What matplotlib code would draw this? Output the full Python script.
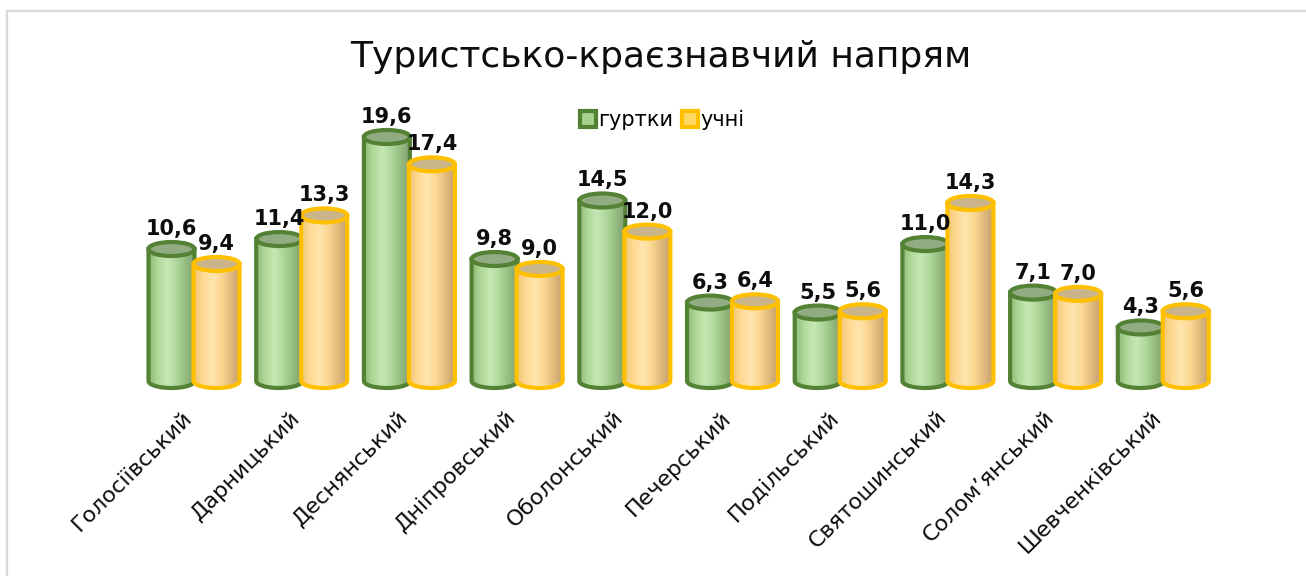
import numpy as np
import matplotlib
matplotlib.use("Agg")
import matplotlib.pyplot as plt
from matplotlib.patches import Ellipse, PathPatch
from matplotlib.path import Path
from matplotlib.colors import LinearSegmentedColormap
from matplotlib.lines import Line2D

categories = ["Голосіївський", "Дарницький", "Деснянський", "Дніпровський",
              "Оболонський", "Печерський", "Подільський", "Святошинський",
              "Солом’янський", "Шевченківський"]
gurtky = [10.6, 11.4, 19.6, 9.8, 14.5, 6.3, 5.5, 11.0, 7.1, 4.3]
uchni = [9.4, 13.3, 17.4, 9.0, 12.0, 6.4, 5.6, 14.3, 7.0, 5.6]
series_names = ["гуртки", "учні"]
title = "Туристсько-краєзнавчий напрям"

W, H = 1306, 576
fig = plt.figure(figsize=(W / 100, H / 100), dpi=100)
ax = fig.add_axes([0, 0, 1, 1])
ax.set_axis_off()

# pixel-based layout -> data limits
px_per_cat = 107.7
first_px = 194.0
base_px = 381.0
px_per_unit = 12.45
xlim = (-first_px / px_per_cat, (W - first_px) / px_per_cat)
ylim = (-(H - base_px) / px_per_unit, base_px / px_per_unit)

bw = 46 / px_per_cat          # cylinder width in x units
off = 22.5 / px_per_cat       # offset from category center
eh = 14 / px_per_unit          # ellipse height in y units

green_cmap = LinearSegmentedColormap.from_list(
    "g", ["#8cbc74", "#b0d99a", "#c6e7b5", "#b0d79b", "#96bd80", "#829f72"])
yellow_cmap = LinearSegmentedColormap.from_list(
    "y", ["#efc676", "#ffda94", "#ffe5ad", "#fbd792", "#e2ba7d", "#c5a070"])
grad = np.linspace(0, 1, 256).reshape(1, -1)


def cylinder(xc, h, cmap, edge, topc, z):
    x0, x1 = xc - bw / 2, xc + bw / 2
    t = np.linspace(0, np.pi, 60)
    bx = xc + (bw / 2) * np.cos(t)
    by = -(eh / 2) * np.sin(t)
    verts = [(x0, h), (x1, h)] + list(zip(bx, by)) + [(x0, h)]
    codes = [Path.MOVETO] + [Path.LINETO] * (len(verts) - 2) + [Path.CLOSEPOLY]
    path = Path(verts, codes)
    clip = PathPatch(path, facecolor="none", edgecolor="none", transform=ax.transData)
    ax.add_patch(clip)
    im = ax.imshow(grad, extent=[x0, x1, -eh / 2, h], aspect="auto", cmap=cmap,
                   zorder=z, interpolation="bilinear")
    im.set_clip_path(clip)
    ax.add_patch(PathPatch(path, facecolor="none", edgecolor=edge, lw=3.0, zorder=z + 0.1))
    ax.add_patch(Ellipse((xc, h), bw, eh, facecolor=topc, edgecolor=edge, lw=3.0, zorder=z + 0.2))


for i, (g, u) in enumerate(zip(gurtky, uchni)):
    z = 2 + i
    cylinder(i - off, g, green_cmap, "#548235", "#91ab82", z)
    cylinder(i + off, u, yellow_cmap, "#ffc000", "#cab58a", z + 0.5)
    for xv, v in ((i - off, g), (i + off, u)):
        ax.text(xv, v + eh / 2 + 3 / px_per_unit, f"{v:.1f}".replace(".", ","),
                ha="center", va="bottom", fontsize=15, fontweight="bold",
                color="#0d0d0d", zorder=50)
    ax.text(i - 0.11, -26 / px_per_unit, categories[i], rotation=45,
            rotation_mode="anchor", ha="right", va="top", fontsize=16,
            color="#0d0d0d")

ax.set_xlim(*xlim)
ax.set_ylim(*ylim)

fig.text(661 / W, 1 - 57 / H, title, ha="center", va="center", fontsize=26,
         color="#0d0d0d")

handles = [
    Line2D([], [], linestyle="none", marker="s", markersize=11,
           markerfacecolor="#a9d18e", markeredgecolor="#548235", markeredgewidth=3),
    Line2D([], [], linestyle="none", marker="s", markersize=11,
           markerfacecolor="#ffd966", markeredgecolor="#ffc000", markeredgewidth=3),
]
fig.legend(handles, series_names, loc="center", bbox_to_anchor=(663 / W, 1 - 120 / H),
           ncol=2, frameon=False, fontsize=15, handlelength=0.6, handletextpad=0.2,
           columnspacing=0.5)

# chart border (top and left visible)
top_y = 1 - 10.5 / H
left_x = 7 / W
fig.add_artist(Line2D([left_x, 1], [top_y, top_y], color="#d9d9d9", lw=1.6,
                      transform=fig.transFigure))
fig.add_artist(Line2D([left_x, left_x], [0, top_y], color="#d9d9d9", lw=1.6,
                      transform=fig.transFigure))

fig.savefig("out.png", dpi=100, facecolor="white")
